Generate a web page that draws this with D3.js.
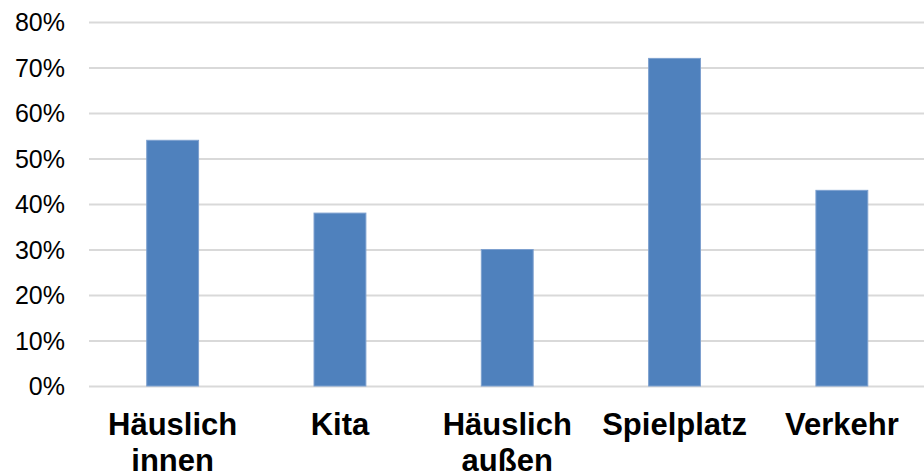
<!DOCTYPE html>
<html>
<head>
<meta charset="utf-8">
<script src="https://cdn.jsdelivr.net/npm/d3@7"></script>
<style>
  html, body { margin: 0; padding: 0; background: #fff; }
  svg { display: block; }
</style>
</head>
<body>
<svg id="chart" width="924" height="474"></svg>
<script>
// Unfallorte nach Anteil (%)
const categories = [["Häuslich", "innen"], ["Kita"], ["Häuslich", "außen"], ["Spielplatz"], ["Verkehr"]];
const values = [54, 38, 30, 72, 43];
const yTicks = [0, 10, 20, 30, 40, 50, 60, 70, 80];

const width = 924, height = 474;
const margin = { left: 89, right: -1.5, top: 22, bottom: 88 };

const svg = d3.select("#chart");

const keys = categories.map(c => c.join(" "));

const x = d3.scaleBand()
  .domain(keys)
  .range([margin.left, width - margin.right])
  .paddingInner(0.69)
  .paddingOuter(0.345);

const y = d3.scaleLinear()
  .domain([0, 80])
  .range([height - margin.bottom, margin.top]);

// Gridlines and percentage labels
const yAxis = d3.axisLeft(y)
  .tickValues(yTicks)
  .tickSize(-(width - margin.left))
  .tickPadding(24)
  .tickFormat(d => d + "%");

const gy = svg.append("g")
  .attr("transform", `translate(${margin.left},0)`)
  .call(yAxis);
gy.select(".domain").remove();
gy.selectAll(".tick line")
  .attr("stroke", "#d9d9d9")
  .attr("stroke-width", 2);
gy.selectAll(".tick text")
  .attr("fill", "#000")
  .attr("dy", "0.35em")
  .style("font-family", "'Liberation Sans', Arial, sans-serif")
  .style("font-size", "25px");

// Bars
svg.append("g")
  .selectAll("rect")
  .data(values)
  .join("rect")
  .attr("x", (d, i) => x(keys[i]))
  .attr("width", x.bandwidth())
  .attr("y", d => y(d))
  .attr("height", d => y(0) - y(d))
  .attr("fill", "#4f81bd")
  .attr("stroke", "#7da0cf")
  .attr("stroke-width", 1);

// Category labels (bold, possibly two lines)
const labels = svg.append("g")
  .selectAll("text")
  .data(categories)
  .join("text")
  .attr("x", (d, i) => x(keys[i]) + x.bandwidth() / 2)
  .attr("y", 435)
  .attr("text-anchor", "middle")
  .attr("fill", "#000")
  .style("font-family", "'Liberation Sans', Arial, sans-serif")
  .style("font-weight", "bold")
  .style("font-size", "31px");

labels.selectAll("tspan")
  .data(d => d)
  .join("tspan")
  .attr("x", function () { return d3.select(this.parentNode).attr("x"); })
  .attr("dy", (d, i) => i === 0 ? 0 : 36)
  .text(d => d);
</script>
</body>
</html>
